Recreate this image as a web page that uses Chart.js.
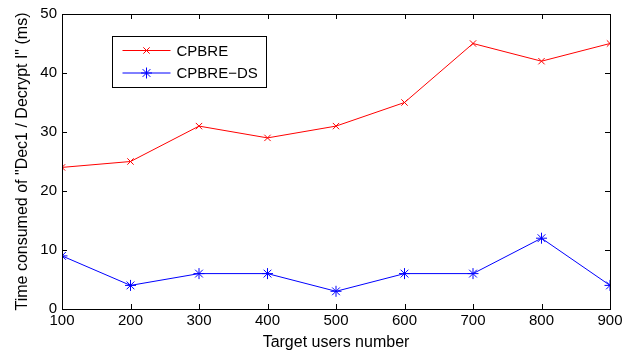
<!DOCTYPE html>
<html>
<head>
<meta charset="utf-8">
<script src="https://cdn.jsdelivr.net/npm/chart.js@4"></script>
<style>
html,body{margin:0;padding:0;background:#fff;}
#wrap{width:638px;height:350px;}
</style>
</head>
<body>
<div id="wrap"><canvas id="c" width="638" height="350"></canvas></div>
<script>
const categories = [100, 200, 300, 400, 500, 600, 700, 800, 900];
const cpbre = [24, 25, 31, 29, 31, 35, 45, 42, 45];
const cpbreDS = [9, 4, 6, 6, 3, 6, 6, 12, 4];
const yTicks = [0, 10, 20, 30, 40, 50];
const seriesNames = ['CPBRE', 'CPBRE\u2212DS'];
const xTitle = 'Target users number';
const yTitle = 'Time consumed of "Dec1 / Decrypt I" (ms)';

const FONT = 'Liberation Sans, Arial, sans-serif';

const boxPlugin = {
  id: 'boxPlugin',
  afterDraw(chart) {
    const ctx = chart.ctx;
    const a = chart.chartArea;
    const xs = chart.scales.x, ys = chart.scales.y;
    ctx.save();
    ctx.strokeStyle = '#000';
    ctx.lineWidth = 1;
    ctx.beginPath();
    const L = 5;
    categories.forEach(v => {
      const px = Math.round(xs.getPixelForValue(v)) + 0.5;
      ctx.moveTo(px, a.bottom); ctx.lineTo(px, a.bottom - L);
      ctx.moveTo(px, a.top); ctx.lineTo(px, a.top + L);
    });
    yTicks.forEach(v => {
      const py = Math.round(ys.getPixelForValue(v)) + 0.5;
      ctx.moveTo(a.left, py); ctx.lineTo(a.left + L, py);
      ctx.moveTo(a.right, py); ctx.lineTo(a.right - L, py);
    });
    ctx.stroke();
    ctx.strokeRect(Math.round(a.left)+0.5, Math.round(a.top)+0.5, Math.round(a.right-a.left), Math.round(a.bottom-a.top));

    // legend
    const lx = 112.5, ly = 36.5, lw = 154, lh = 51;
    ctx.fillStyle = '#fff';
    ctx.fillRect(lx, ly, lw, lh);
    ctx.strokeRect(lx, ly, lw, lh);
    chart.data.datasets.forEach((ds, i) => {
      const y = ly + 14 + i * 22.5;
      ctx.strokeStyle = ds.borderColor;
      ctx.lineWidth = 1;
      ctx.beginPath(); ctx.moveTo(lx + 10, y); ctx.lineTo(lx + 58, y); ctx.stroke();
      Chart.helpers.drawPoint(ctx, {pointStyle: ds.pointStyle, radius: ds.pointRadius, borderWidth: 1}, lx + 34, y);
      ctx.fillStyle = '#000';
      ctx.font = '15px ' + FONT;
      ctx.textBaseline = 'middle';
      ctx.textAlign = 'left';
      ctx.fillText(ds.label, lx + 64, y + 1);
    });
    ctx.restore();
  }
};

new Chart(document.getElementById('c'), {
  type: 'line',
  data: {
    labels: categories,
    datasets: [
      {label: seriesNames[0], data: categories.map((x,i)=>({x, y: cpbre[i]})), borderColor: '#ff0000', backgroundColor: '#ff0000', borderWidth: 1, pointStyle: 'crossRot', pointRadius: 4.5, pointBorderWidth: 1, pointBorderColor: '#ff0000', tension: 0},
      {label: seriesNames[1], data: categories.map((x,i)=>({x, y: cpbreDS[i]})), borderColor: '#0000ff', backgroundColor: '#0000ff', borderWidth: 1, pointStyle: 'star', pointRadius: 5.5, pointBorderWidth: 1, pointBorderColor: '#0000ff', tension: 0}
    ]
  },
  options: {
    responsive: false,
    animation: false,
    layout: {padding: {top: 14, right: 28, left: 0, bottom: 0}},
    plugins: {legend: {display: false}, tooltip: {enabled: false}},
    scales: {
      x: {
        type: 'linear', min: 100, max: 900,
        afterBuildTicks(s) { s.ticks = categories.map(v => ({value: v})); },
        afterFit(s) { s.height = 41; },
        grid: {display: false, drawTicks: false},
        border: {display: false},
        ticks: {color: '#000', font: {family: FONT, size: 15}, padding: 3, maxRotation: 0, autoSkip: false},
        title: {display: true, text: xTitle, color: '#000', font: {family: FONT, size: 16}, padding: {top: 2, bottom: -2}}
      },
      y: {
        type: 'linear', min: 0, max: 50,
        afterBuildTicks(s) { s.ticks = yTicks.map(v => ({value: v})); },
        afterFit(s) { s.width = 62; },
        grid: {display: false, drawTicks: false},
        border: {display: false},
        ticks: {color: '#000', font: {family: FONT, size: 15}, padding: 5},
        title: {display: true, text: yTitle, color: '#000', font: {family: FONT, size: 16}, padding: {top: 13, bottom: 0}}
      }
    }
  },
  plugins: [boxPlugin]
});
</script>
</body>
</html>
